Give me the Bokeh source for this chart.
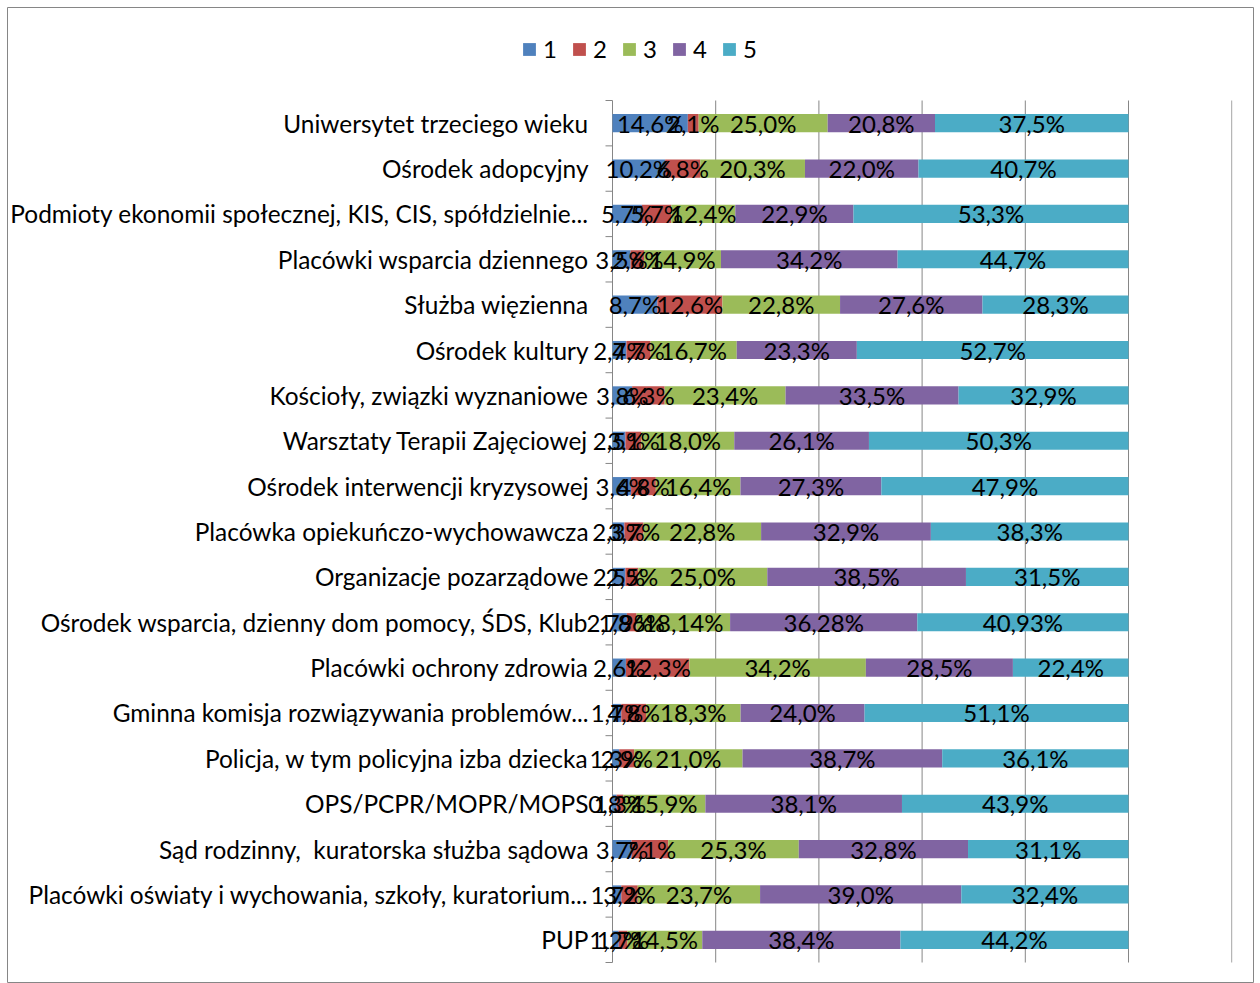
from bokeh.plotting import figure
from bokeh.models import Range1d, Legend, LegendItem, ColumnDataSource
from bokeh.core.properties import value
from bokeh.embed import file_html
from bokeh.resources import INLINE

categories = [
    "Uniwersytet trzeciego wieku",
    "Ośrodek adopcyjny",
    "Podmioty ekonomii społecznej, KIS, CIS, spółdzielnie...",
    "Placówki wsparcia dziennego",
    "Służba więzienna",
    "Ośrodek kultury",
    "Kościoły, związki wyznaniowe",
    "Warsztaty Terapii Zajęciowej",
    "Ośrodek interwencji kryzysowej",
    "Placówka opiekuńczo-wychowawcza",
    "Organizacje pozarządowe",
    "Ośrodek wsparcia, dzienny dom pomocy, ŚDS, Klub",
    "Placówki ochrony zdrowia",
    "Gminna komisja rozwiązywania problemów...",
    "Policja, w tym policyjna izba dziecka",
    "OPS/PCPR/MOPR/MOPS",
    "Sąd rodzinny, \u00a0kuratorska służba sądowa",
    "Placówki oświaty i wychowania, szkoły, kuratorium...",
    "PUP",
]
series_names = ["1", "2", "3", "4", "5"]
s1 = [14.6, 10.2, 5.7, 3.5, 8.7, 2.7, 3.8, 2.5, 3.6, 2.3, 2.5, 2.79, 2.6, 1.7, 1.3, 0.8, 3.7, 1.7, 1.2]
s2 = [2.1, 6.8, 5.7, 2.6, 12.6, 4.7, 6.3, 3.1, 4.8, 3.7, 2.5, 1.86, 12.3, 4.8, 2.9, 1.3, 7.1, 3.2, 1.7]
s3 = [25.0, 20.3, 12.4, 14.9, 22.8, 16.7, 23.4, 18.0, 16.4, 22.8, 25.0, 18.14, 34.2, 18.3, 21.0, 15.9, 25.3, 23.7, 14.5]
s4 = [20.8, 22.0, 22.9, 34.2, 27.6, 23.3, 33.5, 26.1, 27.3, 32.9, 38.5, 36.28, 28.5, 24.0, 38.7, 38.1, 32.8, 39.0, 38.4]
s5 = [37.5, 40.7, 53.3, 44.7, 28.3, 52.7, 32.9, 50.3, 47.9, 38.3, 31.5, 40.93, 22.4, 51.1, 36.1, 43.9, 31.1, 32.4, 44.2]
series = [s1, s2, s3, s4, s5]
grid_ticks = [0.0, 0.2, 0.4, 0.6, 0.8, 1.0]
colors = ["#4F81BD", "#C0504D", "#9BBB59", "#8064A2", "#4BACC6"]

FONT = "Lato"
FS = "24px"
FS_CAT = "24.4px"
GRID = "#868686"

# pixel layout (page coordinates)
W, H = 1260, 983
FL, FT, FR = 7, 7, 1253          # chart-area border (frame)
X0, X100 = 612, 1128             # 0% and 100% positions
YT, YB = 100, 962                # top/bottom of category band
n = len(categories)

ppu = X100 - X0
x_start = -(X0 - FL) / ppu
x_end = (FR - X0) / ppu
upp = n / (YB - YT)
y_start = -(H - YB) * upp
y_end = n + (YT - FT) * upp

p = figure(width=W, height=H, output_backend="svg", toolbar_location=None,
           x_range=Range1d(x_start, x_end), y_range=Range1d(y_start, y_end),
           x_axis_location=None, y_axis_location=None,
           min_border_left=FL, min_border_right=W - FR, min_border_top=FT, min_border_bottom=0)
p.outline_line_color = GRID
p.outline_line_width = 1
p.background_fill_color = "white"
p.border_fill_color = "white"
p.xgrid.visible = False
p.ygrid.visible = False

ys = [n - i - 0.5 for i in range(n)]

# vertical gridlines (0..100%) and extra light line at 120%
p.segment(x0=grid_ticks, y0=[0] * len(grid_ticks), x1=grid_ticks, y1=[n] * len(grid_ticks),
          line_color=GRID, line_width=1)
p.segment(x0=[1.2], y0=[0], x1=[1.2], y1=[n], line_color="#a6a6a6", line_width=1)

# category-boundary ticks on the left of the axis
tick_len = 7 / ppu
bounds = list(range(n + 1))
p.segment(x0=[-tick_len] * len(bounds), y0=bounds, x1=[0] * len(bounds), y1=bounds,
          line_color=GRID, line_width=1)

# category labels
p.text(x=[-24 / ppu] * n, y=ys, text=categories, text_font=value(FONT), text_font_size=FS_CAT,
       text_align="right", text_baseline="middle", text_color="black")

totals = [sum(s[i] for s in series) for i in range(n)]
renderers = []
left = [0.0] * n
label_sources = []
for k, s in enumerate(series):
    frac = [v / t for v, t in zip(s, totals)]
    right = [l + f for l, f in zip(left, frac)]
    labels = []
    for v in s:
        txt = f"{v:.2f}" if round(v, 1) != v else f"{v:.1f}"
        labels.append(txt.replace(".", ",") + "%")
    src = ColumnDataSource(dict(y=ys, left=left, right=right,
                                cx=[(a + b) / 2 for a, b in zip(left, right)], lab=labels))
    r = p.hbar(y="y", left="left", right="right", height=0.4, source=src,
               fill_color=colors[k], line_color=None)
    renderers.append(r)
    label_sources.append(src)
    left = right

for src in label_sources:
    p.text(x="cx", y="y", text="lab", source=src, text_font=value(FONT), text_font_size=FS,
           text_align="center", text_baseline="middle", text_color="black")

legend = Legend(items=[LegendItem(label=nm, renderers=[r]) for nm, r in zip(series_names, renderers)],
                orientation="horizontal", location=(521 - FL, H - 63),
                glyph_width=16, glyph_height=16, label_standoff=6, label_width=20, spacing=8,
                padding=0, margin=0, border_line_color=None, background_fill_alpha=0,
                label_text_font=FONT, label_text_font_size=FS, label_text_color="black")
p.add_layout(legend, "center")

open("out.html", "w").write(file_html(p, INLINE))
